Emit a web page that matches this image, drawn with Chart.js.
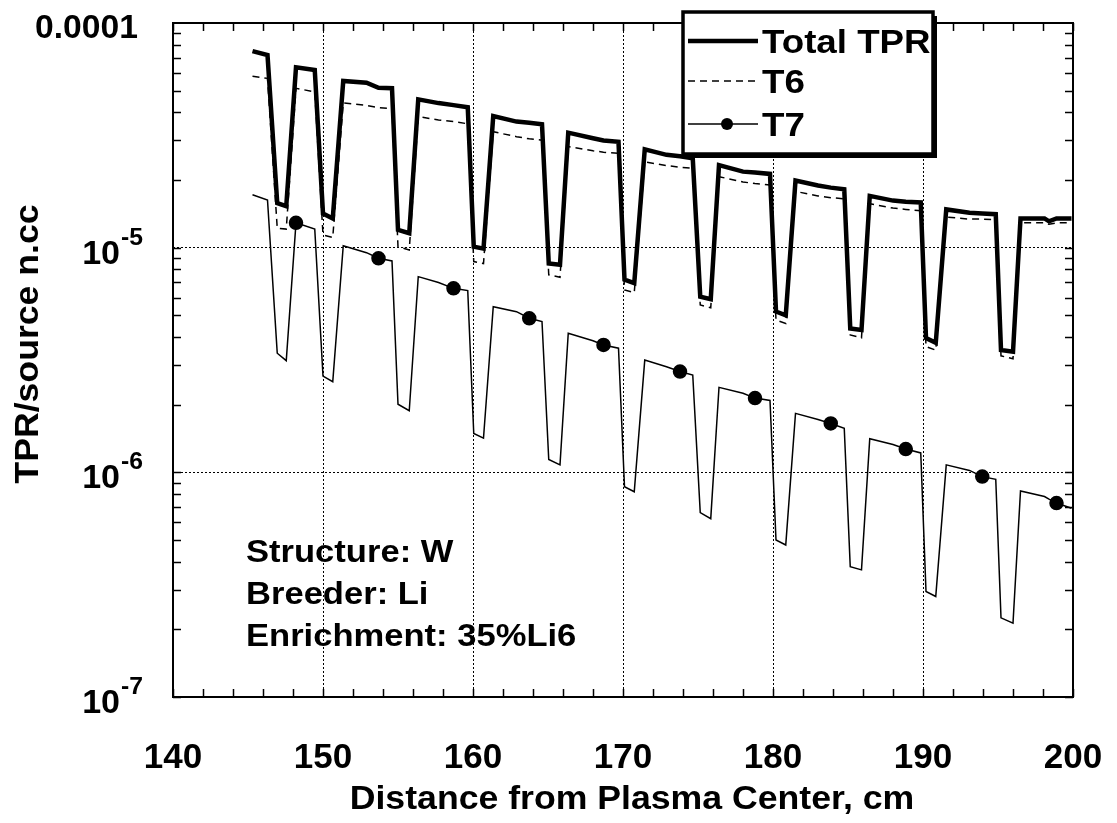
<!DOCTYPE html>
<html>
<head>
<meta charset="utf-8">
<script src="https://cdn.jsdelivr.net/npm/chart.js@4"></script>
<style>
  html, body { margin: 0; padding: 0; background: #fff; }
</style>
</head>
<body>
<canvas id="myChart" width="1117" height="823"></canvas>
<script>
// distance from plasma center, cm
const distance = [
  145.3, 146.3, 146.95, 147.55, 148.2, 149.45,
  150.0, 150.65, 151.35, 152.9, 153.7, 154.6,
  155.0, 155.75, 156.35, 157.7, 158.7, 159.65,
  160.05, 160.7, 161.35, 162.9, 163.75, 164.6,
  165.05, 165.8, 166.35, 168.0, 168.7, 169.7,
  170.1, 170.75, 171.45, 172.9, 173.8, 174.65,
  175.15, 175.85, 176.4, 178.0, 178.8, 179.8,
  180.2, 180.85, 181.5, 183.0, 183.85, 184.75,
  185.15, 185.9, 186.45, 188.0, 188.85, 189.85,
  190.2, 190.85, 191.55, 193.1, 193.95, 194.85,
  195.2, 196.0, 196.5, 198.1, 198.4, 198.9, 199.9
];
const totalTPR = [
  7.5e-5, 7.2e-5, 1.58e-5, 1.53e-5, 6.35e-5, 6.18e-5,
  1.42e-5, 1.35e-5, 5.52e-5, 5.42e-5, 5.15e-5, 5.13e-5,
  1.2e-5, 1.16e-5, 4.57e-5, 4.4e-5, 4.31e-5, 4.22e-5,
  1.01e-5, 0.99e-5, 3.85e-5, 3.64e-5, 3.6e-5, 3.54e-5,
  8.5e-6, 8.4e-6, 3.25e-5, 3.07e-5, 3.0e-5, 2.96e-5,
  7.2e-6, 6.95e-6, 2.74e-5, 2.59e-5, 2.55e-5, 2.5e-5,
  6.05e-6, 5.9e-6, 2.33e-5, 2.18e-5, 2.16e-5, 2.13e-5,
  5.2e-6, 5.0e-6, 1.99e-5, 1.89e-5, 1.85e-5, 1.82e-5,
  4.37e-6, 4.3e-6, 1.7e-5, 1.62e-5, 1.6e-5, 1.59e-5,
  3.96e-6, 3.77e-6, 1.48e-5, 1.43e-5, 1.42e-5, 1.41e-5,
  3.5e-6, 3.44e-6, 1.35e-5, 1.35e-5, 1.31e-5, 1.35e-5, 1.35e-5
];
const t6 = [
  5.8e-5, 5.67e-5, 1.22e-5, 1.21e-5, 5.12e-5, 4.94e-5,
  1.14e-5, 1.11e-5, 4.41e-5, 4.3e-5, 4.2e-5, 4.16e-5,
  1.01e-5, 9.77e-6, 3.83e-5, 3.7e-5, 3.64e-5, 3.56e-5,
  8.67e-6, 8.5e-6, 3.28e-5, 3.12e-5, 3.05e-5, 3.01e-5,
  7.57e-6, 7.38e-6, 2.82e-5, 2.7e-5, 2.66e-5, 2.63e-5,
  6.48e-6, 6.3e-6, 2.41e-5, 2.32e-5, 2.28e-5, 2.26e-5,
  5.56e-6, 5.4e-6, 2.07e-5, 1.96e-5, 1.93e-5, 1.9e-5,
  4.76e-6, 4.6e-6, 1.78e-5, 1.7e-5, 1.67e-5, 1.65e-5,
  4.09e-6, 3.97e-6, 1.57e-5, 1.5e-5, 1.48e-5, 1.46e-5,
  3.63e-6, 3.5e-6, 1.37e-5, 1.34e-5, 1.34e-5, 1.33e-5,
  3.3e-6, 3.2e-6, 1.29e-5, 1.29e-5, 1.27e-5, 1.29e-5, 1.29e-5
];
const t7 = [
  1.72e-5, 1.63e-5, 3.39e-6, 3.14e-6, 1.29e-5, 1.21e-5,
  2.68e-6, 2.53e-6, 1.02e-5, 9.5e-6, 8.97e-6, 8.73e-6,
  2.01e-6, 1.88e-6, 7.43e-6, 7.0e-6, 6.59e-6, 6.44e-6,
  1.49e-6, 1.42e-6, 5.46e-6, 5.19e-6, 4.85e-6, 4.69e-6,
  1.14e-6, 1.08e-6, 4.16e-6, 3.85e-6, 3.69e-6, 3.57e-6,
  8.63e-7, 8.2e-7, 3.16e-6, 2.95e-6, 2.81e-6, 2.71e-6,
  6.62e-7, 6.22e-7, 2.39e-6, 2.25e-6, 2.14e-6, 2.09e-6,
  5.0e-7, 4.75e-7, 1.83e-6, 1.72e-6, 1.65e-6, 1.57e-6,
  3.8e-7, 3.68e-7, 1.41e-6, 1.33e-6, 1.27e-6, 1.22e-6,
  2.95e-7, 2.8e-7, 1.08e-6, 1.02e-6, 9.57e-7, 9.31e-7,
  2.25e-7, 2.13e-7, 8.26e-7, 7.8e-7, 7.6e-7, 7.3e-7, 6.92e-7
];
// T7 symbols sit only on these points
const t7MarkerAt = [148.2, 153.7, 158.7, 163.75, 168.7, 173.8, 178.8, 183.85, 188.85, 193.95, 198.9];

const xTicks = [140, 150, 160, 170, 180, 190, 200];
const yDecades = [1e-4, 1e-5, 1e-6, 1e-7];
const yTickBase = ['0.0001', '10', '10', '10'];
const yTickExp = ['', '-5', '-6', '-7'];
const legendLabels = ['Total TPR', 'T6', 'T7'];
const notes = ['Structure: W', 'Breeder: Li', 'Enrichment: 35%Li6'];

const FONT = '"Liberation Sans", Arial, sans-serif';
const STRETCH = 1.08; // the original's lettering is a bit wider than Arial
const pts = ys => distance.map((x, i) => ({ x: x, y: ys[i] }));
const isDecade = v => Math.abs(Math.log10(v) - Math.round(Math.log10(v))) < 1e-6;

function wideText(ctx, text, x, y, sx) {
  ctx.save();
  ctx.translate(x, y);
  ctx.scale(sx || STRETCH, 1);
  ctx.fillText(text, 0, 0);
  ctx.restore();
}

const framePlugin = {
  id: 'frame',
  afterDraw(chart) {
    const ctx = chart.ctx;
    const a = chart.chartArea;
    const xs = chart.scales.x, ys = chart.scales.y;
    ctx.save();
    ctx.strokeStyle = '#000';
    ctx.fillStyle = '#000';

    // inward minor / major ticks
    ctx.lineWidth = 1.5;
    ctx.beginPath();
    for (let v = 140; v <= 200; v += 2) {
      const px = Math.round(xs.getPixelForValue(v)) + 0.5;
      ctx.moveTo(px, a.bottom); ctx.lineTo(px, a.bottom - 8);
      ctx.moveTo(px, a.top); ctx.lineTo(px, a.top + 8);
    }
    for (let d = -7; d < -4; d++) {
      for (let m = 1; m <= 9; m++) {
        const py = Math.round(ys.getPixelForValue(m * Math.pow(10, d))) + 0.5;
        ctx.moveTo(a.left, py); ctx.lineTo(a.left + 8, py);
        ctx.moveTo(a.right, py); ctx.lineTo(a.right - 8, py);
      }
    }
    ctx.stroke();

    // plot frame
    ctx.lineWidth = 2;
    ctx.strokeRect(a.left, a.top, a.right - a.left, a.bottom - a.top);

    // y tick labels with exponents
    ctx.textBaseline = 'alphabetic';
    yDecades.forEach((v, i) => {
      const py = ys.getPixelForValue(v);
      if (yTickExp[i]) {
        ctx.font = 'bold 24px ' + FONT;
        ctx.textAlign = 'left';
        wideText(ctx, yTickExp[i], 121, py - 3, 1.03);
        ctx.font = 'bold 33px ' + FONT;
        ctx.textAlign = 'right';
        wideText(ctx, yTickBase[i], 120, py + 16, 1.03);
      } else {
        ctx.font = 'bold 33px ' + FONT;
        ctx.textAlign = 'right';
        wideText(ctx, yTickBase[i], 138, py + 15, 1.02);
      }
    });

    // axis titles
    ctx.font = 'bold 33px ' + FONT;
    ctx.textAlign = 'center';
    ctx.textBaseline = 'middle';
    wideText(ctx, 'Distance from Plasma Center, cm', 632, 800);
    ctx.save();
    ctx.translate(29, 344);
    ctx.rotate(-Math.PI / 2);
    ctx.scale(STRETCH, 1);
    ctx.fillText('TPR/source n.cc', 0, 0);
    ctx.restore();

    // notes
    ctx.font = 'bold 32px ' + FONT;
    ctx.textAlign = 'left';
    ctx.textBaseline = 'alphabetic';
    notes.forEach((t, i) => wideText(ctx, t, 246, 562 + i * 42));

    // legend box with shadow
    const lx = 683, ly = 12, lw = 250, lh = 142;
    ctx.fillRect(lx + 4, ly + 4, lw, lh);
    ctx.fillStyle = '#fff';
    ctx.fillRect(lx, ly, lw, lh);
    ctx.fillStyle = '#000';
    ctx.lineWidth = 3.5;
    ctx.strokeRect(lx, ly, lw, lh);

    const rows = [41, 81, 124];
    ctx.lineWidth = 4.5;
    ctx.beginPath(); ctx.moveTo(688, rows[0]); ctx.lineTo(758, rows[0]); ctx.stroke();
    ctx.lineWidth = 1.5;
    ctx.setLineDash([7, 5]);
    ctx.beginPath(); ctx.moveTo(688, rows[1]); ctx.lineTo(758, rows[1]); ctx.stroke();
    ctx.setLineDash([]);
    ctx.beginPath(); ctx.moveTo(688, rows[2]); ctx.lineTo(758, rows[2]); ctx.stroke();
    ctx.beginPath(); ctx.arc(727, rows[2], 6, 0, Math.PI * 2); ctx.fill();

    ctx.font = 'bold 34px ' + FONT;
    ctx.textAlign = 'left';
    ctx.textBaseline = 'middle';
    legendLabels.forEach((t, i) => wideText(ctx, t, 762, rows[i] + 3));
    ctx.restore();
  }
};

const ctx = document.getElementById('myChart').getContext('2d');
const myChart = new Chart(ctx, {
  type: 'scatter',
  data: {
    datasets: [
      {
        label: 'Total TPR',
        data: pts(totalTPR),
        showLine: true,
        borderColor: '#000',
        borderWidth: 4.5,
        pointRadius: 0,
        tension: 0
      },
      {
        label: 'T6',
        data: pts(t6),
        showLine: true,
        borderColor: '#000',
        borderWidth: 1.5,
        borderDash: [7, 5],
        pointRadius: 0,
        tension: 0
      },
      {
        label: 'T7',
        data: pts(t7),
        showLine: true,
        borderColor: '#000',
        borderWidth: 1.5,
        backgroundColor: '#000',
        pointBackgroundColor: '#000',
        pointBorderColor: '#000',
        pointRadius: c => t7MarkerAt.includes(distance[c.dataIndex]) ? 6.5 : 0,
        tension: 0
      }
    ]
  },
  options: {
    responsive: false,
    animation: false,
    devicePixelRatio: 1,
    layout: { padding: { top: 23, right: 44, left: 0, bottom: 0 } },
    plugins: {
      legend: { display: false },
      tooltip: { enabled: false }
    },
    scales: {
      x: {
        type: 'linear',
        min: 140,
        max: 200,
        afterFit: s => { s.height = 126; s.paddingLeft = 0; s.paddingRight = 0; },
        afterBuildTicks: s => { s.ticks = xTicks.map(v => ({ value: v })); },
        ticks: {
          color: '#000',
          font: { family: FONT, size: 35, weight: 'bold' },
          padding: 40,
          maxRotation: 0
        },
        grid: {
          drawTicks: false,
          lineWidth: 1,
          color: c => (c.tick && c.tick.value > 140 && c.tick.value < 200) ? '#000' : 'rgba(0,0,0,0)'
        },
        border: { display: false, dash: [2, 2] }
      },
      y: {
        type: 'logarithmic',
        min: 1e-7,
        max: 1e-4,
        afterFit: s => { s.width = 173; s.paddingTop = 0; s.paddingBottom = 0; },
        ticks: {
          callback: () => ''
        },
        grid: {
          drawTicks: false,
          lineWidth: 1,
          color: c => (c.tick && isDecade(c.tick.value) && c.tick.value < 9e-5 && c.tick.value > 1.1e-7) ? '#000' : 'rgba(0,0,0,0)'
        },
        border: { display: false, dash: [2, 2] }
      }
    }
  },
  plugins: [framePlugin]
});
</script>
</body>
</html>
